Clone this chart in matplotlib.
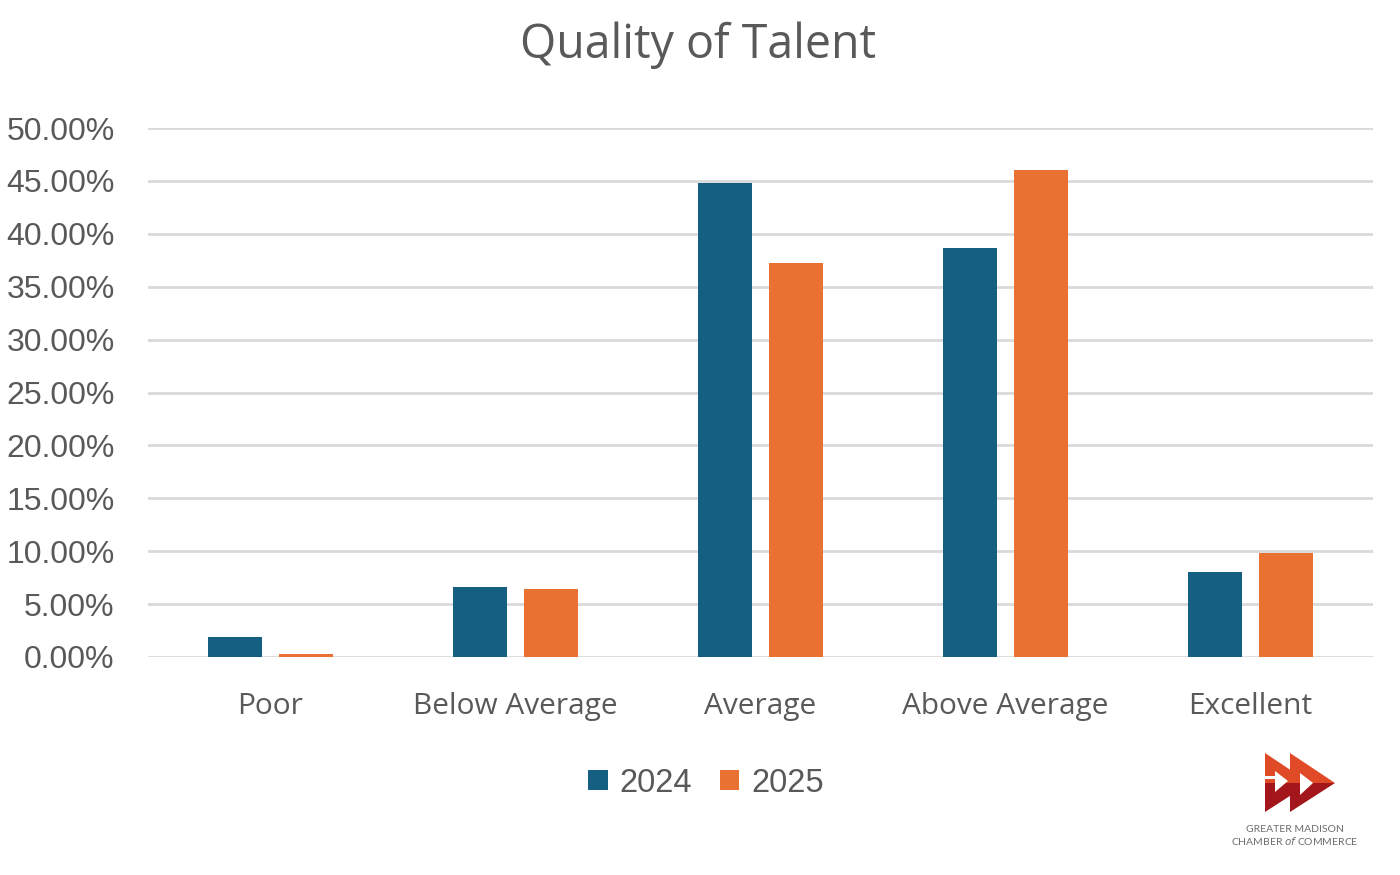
import matplotlib
matplotlib.use("Agg")
import matplotlib.pyplot as plt
from matplotlib.patches import Polygon
import numpy as np

categories = ["Poor", "Below Average", "Average", "Above Average", "Excellent"]
series_names = ["2024", "2025"]
values_2024 = [1.9, 6.6, 44.8, 38.7, 8.0]
values_2025 = [0.3, 6.4, 37.2, 46.05, 9.85]
yticks = [0, 5, 10, 15, 20, 25, 30, 35, 40, 45, 50]

BLUE = "#156082"
ORANGE = "#E97132"
TXT = "#595959"

fig = plt.figure(figsize=(14, 8.75), dpi=100)
ax = fig.add_axes([148/1400, 1-657/875, (1373-148)/1400, (657-128)/875])

x = np.arange(len(categories))
w = 0.224
off = 0.145
ax.bar(x - off, values_2024, w, color=BLUE, label=series_names[0], zorder=3)
ax.bar(x + off, values_2025, w, color=ORANGE, label=series_names[1], zorder=3)

ax.set_xlim(-0.5, len(categories) - 0.5)
ax.set_ylim(0, 50)
ax.set_yticks(yticks)
ax.set_yticklabels([f"{v:.2f}%" for v in yticks], fontfamily="Liberation Sans",
                   fontsize=23, color=TXT)
ax.set_xticks(x)
ax.set_xticklabels(categories, fontfamily="Open Sans", fontsize=21.5, color=TXT)
ax.tick_params(axis="y", length=0, pad=24)
ax.tick_params(axis="x", length=0, pad=25)
ax.grid(axis="y", color="#d9d9d9", linewidth=2, zorder=0)
for s in ax.spines.values():
    s.set_visible(False)

fig.text(698/1400, 1-45/875, "Quality of Talent", ha="center", va="center",
         fontfamily="Open Sans", fontsize=33.5, color=TXT)

leg = fig.legend(loc="center", bbox_to_anchor=(706/1400, 1-783/875), ncol=2,
                 frameon=False, prop={"family": "Liberation Sans", "size": 23.5},
                 handlelength=0.6, handleheight=0.6, handletextpad=0.35,
                 columnspacing=0.85)
for t in leg.get_texts():
    t.set_color(TXT)

# logo
def P(px, py):
    return (px/1400, 1-py/875)

top, bot, mid = 753, 812, 783
L = 45
for x0 in (1265, 1290):
    up = [P(x0, top), P(x0 + L, mid), P(x0, mid)]
    dn = [P(x0, mid), P(x0 + L, mid), P(x0, bot)]
    fig.patches.append(Polygon(up, closed=True, transform=fig.transFigure,
                               facecolor="#E04A27", edgecolor="none"))
    fig.patches.append(Polygon(dn, closed=True, transform=fig.transFigure,
                               facecolor="#A3161B", edgecolor="none"))
wt1 = [P(1275, 771), P(1288, 781), P(1275, 792)]
fig.patches.append(Polygon(wt1, closed=True, transform=fig.transFigure,
                           facecolor="white", edgecolor="none"))
fig.patches.append(Polygon([P(1265, 776), P(1276, 776), P(1276, 779), P(1265, 779)],
                           closed=True, transform=fig.transFigure,
                           facecolor="white", edgecolor="none"))
wt2 = [P(1300, 773), P(1313, 783), P(1300, 795)]
fig.patches.append(Polygon(wt2, closed=True, transform=fig.transFigure,
                           facecolor="white", edgecolor="none"))
fig.text(1295/1400, 1-829/875, "GREATER MADISON", ha="center", va="center",
         fontfamily="Lato", fontsize=7.5, color="#6d6d6d")
fig.text(1295/1400, 1-841/875, r"CHAMBER $\it{of}$ COMMERCE", ha="center", va="center",
         fontfamily="Lato", fontsize=7.5, color="#6d6d6d")

fig.savefig("out.png", dpi=100, facecolor="white")
